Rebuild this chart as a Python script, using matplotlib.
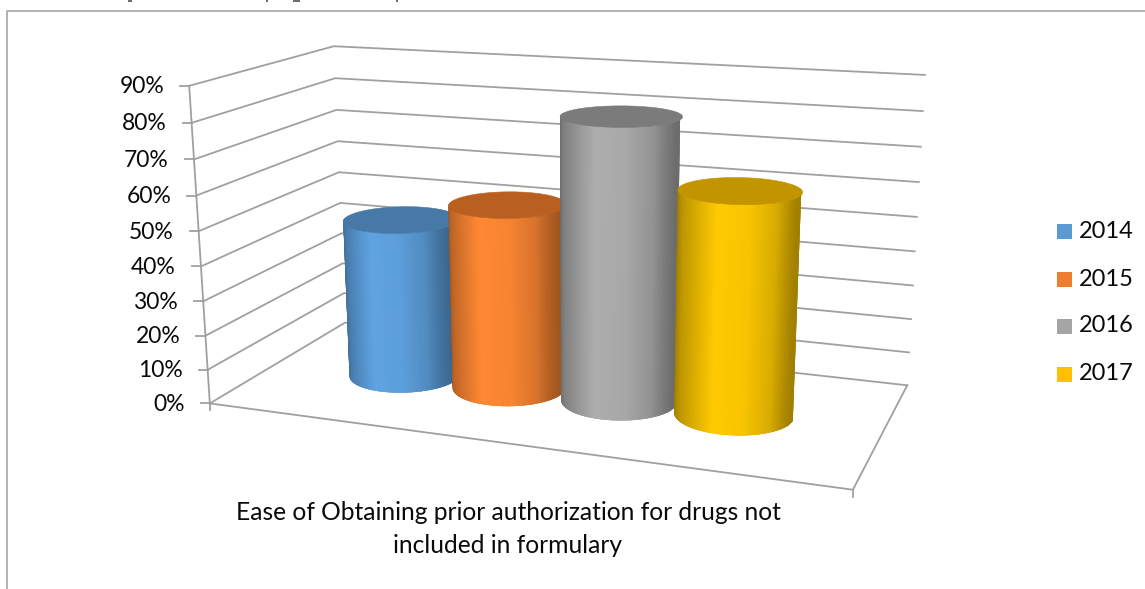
"""3-D clustered cylinder chart: ease of obtaining prior authorization, 2014-2017."""

import matplotlib

matplotlib.use("Agg")
import matplotlib.pyplot as plt  # noqa: E402
import numpy as np  # noqa: E402
from matplotlib.patches import Polygon, Rectangle  # noqa: E402

WIDTH, HEIGHT = 1145, 589

YEARS = ["2014", "2015", "2016", "2017"]
VALUES = [47, 54, 81, 63]
TICKS = [0, 10, 20, 30, 40, 50, 60, 70, 80, 90]
TICK_LABELS = ["0%", "10%", "20%", "30%", "40%", "50%", "60%", "70%", "80%", "90%"]
CATEGORY = "Ease of Obtaining prior authorization for drugs not\nincluded in formulary"

PEAK_COLORS = ["#5fa3e2", "#ff8833", "#adadad", "#ffca00"]
TOP_COLORS = ["#4679a6", "#b96020", "#7b7b7b", "#c29500"]
LEGEND_COLORS = ["#5b9bd5", "#ed7d31", "#a5a5a5", "#ffc000"]
LINE = "#a0a0a0"

# box corners (x, value, depth) -> screen pixels, used to fit the camera
BOX_WORLD = np.array([
    (0, 0, 0), (0, 0, 1), (1, 0, 1), (1, 0, 0),
    (0, 90, 0), (0, 90, 1), (1, 90, 1),
], dtype=float)
BOX_SCREEN = np.array([
    (209, 403), (346, 323), (907, 385), (853, 490),
    (190, 86), (333, 46), (925, 75),
], dtype=float)

BAR_X = [0.225, 0.408, 0.592, 0.775]
BAR_RX = 0.0905
BAR_RZ = 0.2
BAR_Z = 0.51


def fit_camera(world, screen):
    rows, rhs = [], []
    for (x, y, z), (u, v) in zip(world, screen):
        rows.append([x, y, z, 1, 0, 0, 0, 0, -u * x, -u * y, -u * z])
        rows.append([0, 0, 0, 0, x, y, z, 1, -v * x, -v * y, -v * z])
        rhs += [u, v]
    sol, *_ = np.linalg.lstsq(np.array(rows), np.array(rhs), rcond=None)
    return np.append(sol, 1.0).reshape(3, 4)


CAMERA = fit_camera(BOX_WORLD, BOX_SCREEN)


def project(x, y, z):
    pts = np.stack([x, y, z, np.ones_like(x)], axis=-1) @ CAMERA.T
    return pts[..., 0] / pts[..., 2], pts[..., 1] / pts[..., 2]


def pt(x, y, z):
    u, v = project(np.array(float(x)), np.array(float(y)), np.array(float(z)))
    return float(u), float(v)


def shade(peak, t):
    # cylinder lighting: dark rims, brightest a little left of centre
    f = np.interp(t, [0, 0.12, 0.28, 0.45, 0.7, 0.88, 1],
                  [0.58, 0.74, 0.86, 1.0, 0.97, 0.85, 0.62])
    return np.array(matplotlib.colors.to_rgb(peak)) * f


def draw_cylinder(ax, cx, value, peak, top):
    # walk the front half of the rim left to right in equal x steps
    x_f = np.linspace(cx - BAR_RX, cx + BAR_RX, 90)
    z_f = BAR_Z - BAR_RZ * np.sqrt(np.clip(1 - ((x_f - cx) / BAR_RX) ** 2, 0, 1))
    bu_f, bv_f = project(x_f, np.zeros_like(x_f), z_f)
    tu_f, tv_f = project(x_f, np.full_like(x_f, float(value)), z_f)
    # each strip overlaps the next one, which paints over it, so no seams show
    n = len(x_f)
    for i in range(n - 1):
        j = min(i + 3, n - 1)
        color = shade(peak, (i + 0.5) / (n - 1))
        outline = np.vstack([
            np.column_stack([bu_f[i:j + 1], bv_f[i:j + 1]]),
            np.column_stack([tu_f[i:j + 1], tv_f[i:j + 1]])[::-1],
        ])
        ax.add_patch(Polygon(outline, closed=True, facecolor=color, edgecolor="none",
                             snap=False, zorder=3))
    theta = np.linspace(0, 2 * np.pi, 361)
    tu, tv = project(cx + BAR_RX * np.cos(theta), np.full_like(theta, float(value)),
                     BAR_Z + BAR_RZ * np.sin(theta))
    ax.add_patch(Polygon(np.column_stack([tu, tv]), closed=True, facecolor=top,
                         edgecolor=top, linewidth=0.4, zorder=3))


fig = plt.figure(figsize=(WIDTH / 100, HEIGHT / 100), dpi=100)
ax = fig.add_axes([0, 0, 1, 1])
ax.set_xlim(0, WIDTH)
ax.set_ylim(HEIGHT, 0)
ax.axis("off")

font = dict(family="Lato", color="#0a0a0a")

# chart frame, open at the bottom
ax.plot([7, 7, WIDTH], [HEIGHT, 11, 11], color="#a6a6a6", linewidth=1.2)

# ink specks along the top edge
for x0, x1 in [(128, 132), (266, 268), (293, 300), (396, 398)]:
    ax.plot([x0, x1], [0.6, 0.6], color="#444444", linewidth=1.1, solid_capstyle="butt")

# walls and gridlines
for tick, label in zip(TICKS, TICK_LABELS):
    ax.plot(*zip(pt(0, tick, 0), pt(0, tick, 1), pt(1, tick, 1)),
            color=LINE, linewidth=1.3, zorder=1)
    fx, fy = pt(0, tick, 0)
    ax.plot([fx - 9, fx], [fy, fy], color=LINE, linewidth=1.3, zorder=1)
    ax.text(fx - 25, fy + 1, label, ha="right", va="center", fontsize=16.5, **font)
ax.plot(*zip(pt(0, 0, 0), pt(0, 90, 0)), color=LINE, linewidth=1.3, zorder=1)
ax.plot(*zip(pt(0, 0, 0), pt(1, 0, 0), pt(1, 0, 1)), color=LINE, linewidth=1.3, zorder=1)
for wx in (0, 1):
    fx, fy = pt(wx, 0, 0)
    ax.plot([fx, fx], [fy, fy + 7], color=LINE, linewidth=1.3, zorder=1)

for cx, value, peak, top in zip(BAR_X, VALUES, PEAK_COLORS, TOP_COLORS):
    draw_cylinder(ax, cx, value, peak, top)

ax.text(508, 529, CATEGORY, ha="center", va="center", fontsize=17.7,
        linespacing=1.5, **font)

# legend
for year, color, y in zip(YEARS, LEGEND_COLORS, [231, 279, 326, 374]):
    ax.add_patch(Rectangle((1057, y - 7.5), 15, 15, facecolor=color, edgecolor="none"))
    ax.text(1079, y, year, ha="left", va="center", fontsize=17, **font)

fig.savefig("out.png", dpi=100)
